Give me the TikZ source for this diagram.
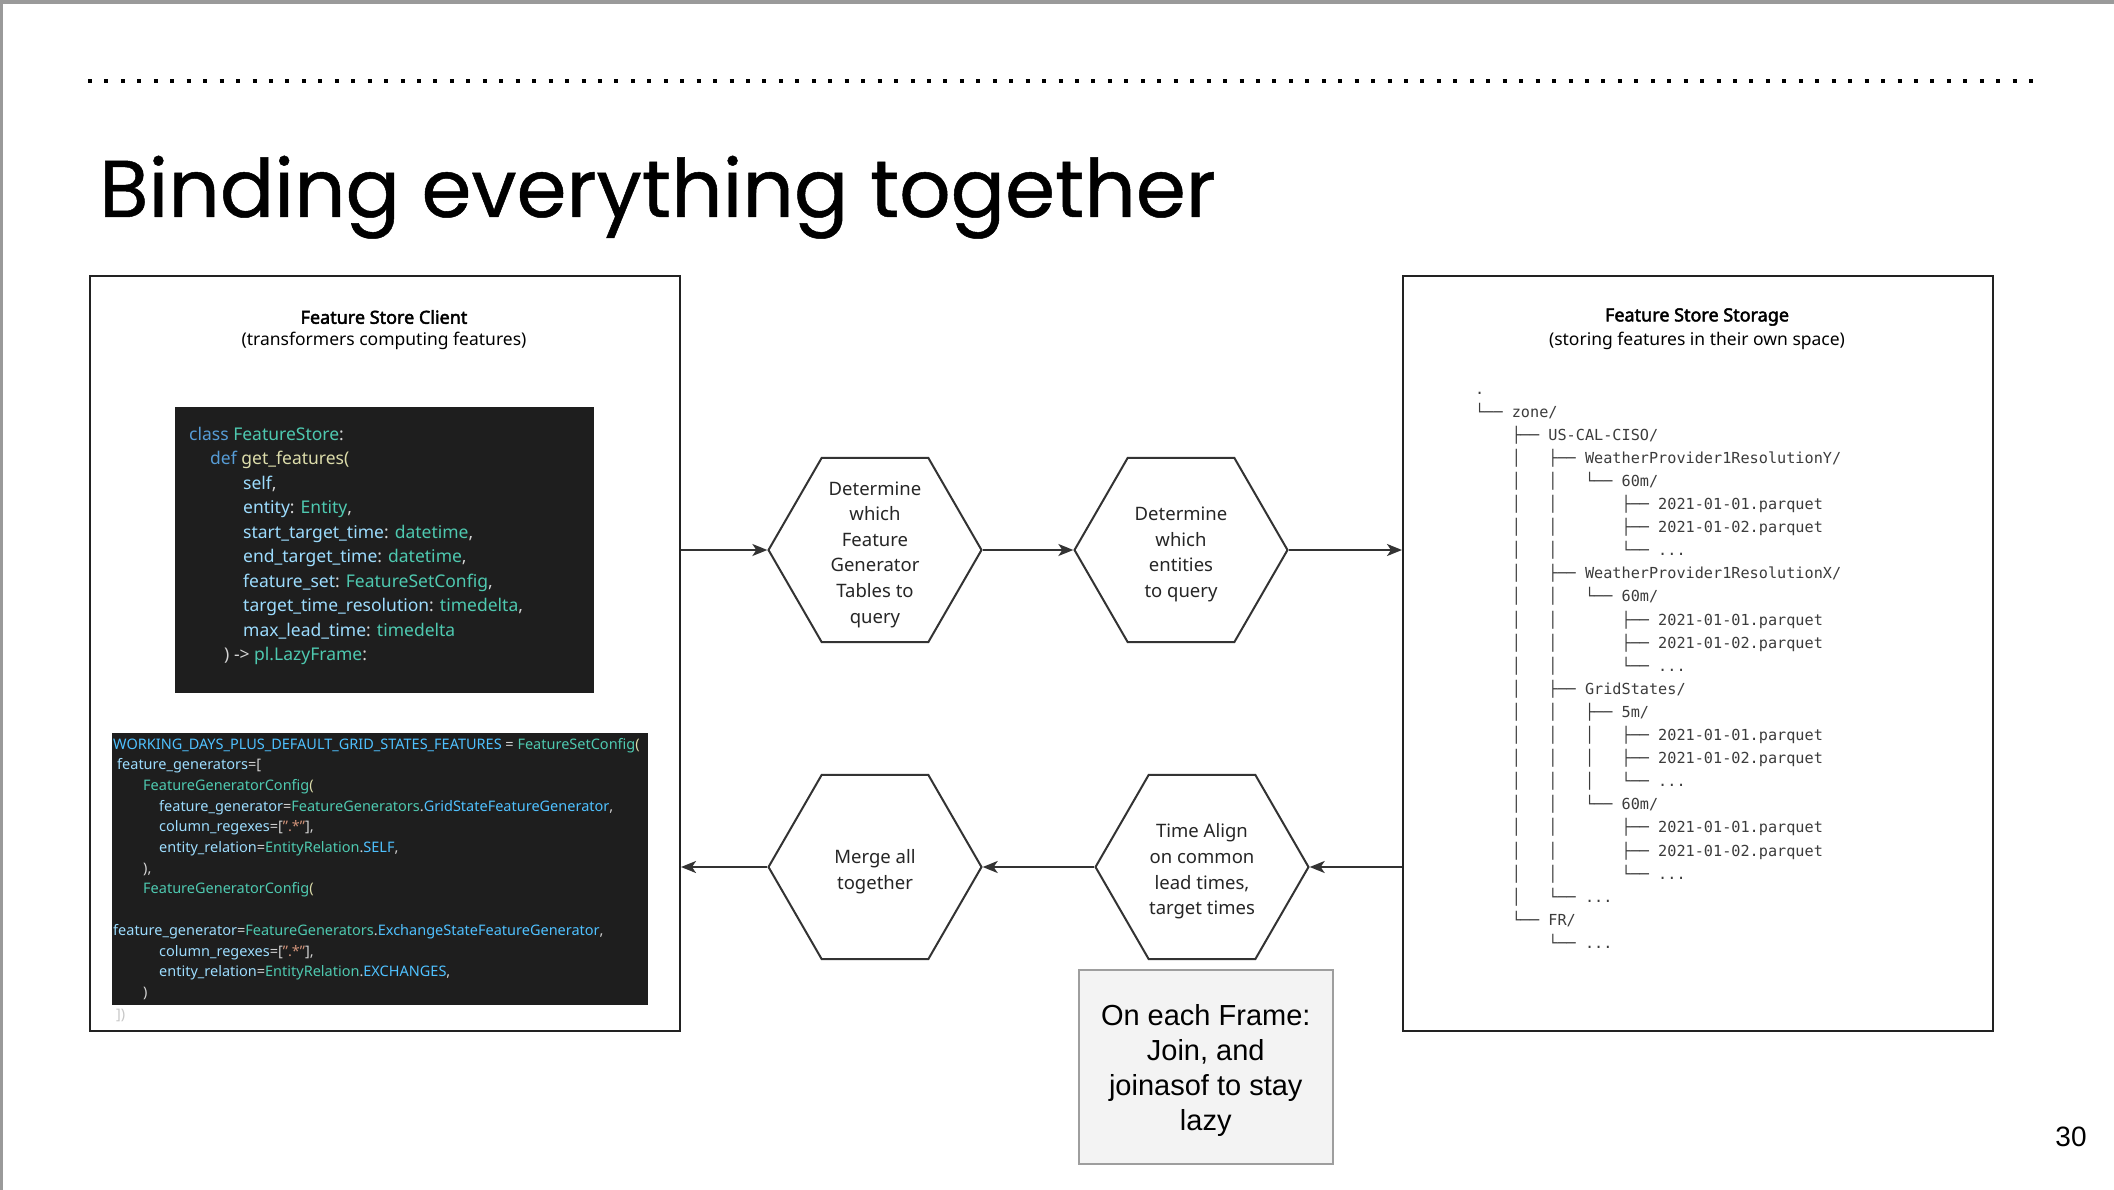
\documentclass[tikz,border=0pt]{standalone}
\usepackage{fontspec}
\setmainfont{Noto Sans}
\newfontfamily\hdrfont{Noto Sans}[FakeBold=2.5]
\newfontfamily\titlefont{Poppins}[FakeBold=0.6]
\newfontfamily\treefont{DejaVu Sans Mono}
\newfontfamily\arialfont{Liberation Sans}
\usetikzlibrary{shapes.geometric,arrows.meta,calc}
\definecolor{framegray}{HTML}{9A9A9A}
\definecolor{boxc}{HTML}{222222}
\definecolor{linec}{HTML}{333333}
\definecolor{codebg}{HTML}{1E1E1E}
\definecolor{ckw}{HTML}{569CD6}
\definecolor{ccls}{HTML}{4EC9B0}
\definecolor{cfn}{HTML}{DCDCAA}
\definecolor{cpar}{HTML}{9CDCFE}
\definecolor{cpun}{HTML}{D4D4D4}
\definecolor{cconst}{HTML}{4FC1FF}
\definecolor{cstr}{HTML}{CE9178}
\definecolor{treec}{HTML}{3C3C3C}
\definecolor{notefill}{HTML}{F3F3F3}
\definecolor{notedraw}{HTML}{9E9E9E}
\newcommand\trI{│\ \ \ }
\newcommand\trE{\ \ \ \ }
\newcommand\trT{├──\ }
\newcommand\trL{└──\ }
\newcommand\trD{...}
\newcommand\cKw[1]{\textcolor{ckw}{#1}}
\newcommand\cCl[1]{\textcolor{ccls}{#1}}
\newcommand\cFn[1]{\textcolor{cfn}{#1}}
\newcommand\cPa[1]{\textcolor{cpar}{#1}}
\newcommand\cCo[1]{\textcolor{cconst}{#1}}
\newcommand\cSt[1]{\textcolor{cstr}{#1}}
\tikzset{
  bigbox/.style={draw=boxc, line width=2pt, inner sep=0pt, anchor=north west},
  header/.style={font=\hdrfont\fontsize{18}{22}\selectfont, inner sep=0pt},
  subheader/.style={font=\fontsize{17.5}{22}\selectfont, inner sep=0pt},
  codebox/.style={fill=codebg, inner sep=0pt, anchor=north west},
  codeA/.style={anchor=base west, inner sep=0pt, text=cpun, font=\fontsize{17.5}{20}\selectfont},
  codeB/.style={anchor=base west, inner sep=0pt, text=cpun, font=\fontsize{14.5}{18}\selectfont},
  hexa/.style={regular polygon, regular polygon sides=6, minimum size=213pt, inner sep=0pt, draw=linec, line width=2pt},
  hextext/.style={align=center, font=\fontsize{18.5}{25.6}\selectfont, text=black!85, yshift=-4.5pt},
  treerow/.style={anchor=base west, inner sep=0pt, text=treec, font=\treefont\fontsize{15.2}{18}\selectfont},
  arr/.style={draw=linec, line width=2pt, -{Stealth[length=15pt, width=12pt, inset=4pt]}},
}
\begin{document}
\begin{tikzpicture}[x=1pt, y=-1pt]
\useasboundingbox (0,0) rectangle (2114,1190);
\fill[white] (0,0) rectangle (2114,1190);
\fill[framegray] (0,0) rectangle (2114,4);
\fill[framegray] (0,0) rectangle (3,1190);
% dotted rule
\draw[line width=4pt, dash pattern=on 4pt off 12.45pt, black] (88,81) -- (2040,81);
% title
\node[anchor=base west, inner sep=0pt, font=\titlefont\fontsize{80.5}{90}\selectfont] (title) at (99,217) {Binding everything together};

% left box
\node[bigbox, minimum width=590pt, minimum height=755pt] (lbox) at (89,275) {};
\node[header] (lhead) at (384,317) {Feature Store Client};
\node[subheader] (lsub) at (384,341) {(transformers computing features)};

% code box 1
\node[codebox, minimum width=419pt, minimum height=286pt] (code1) at (175,407) {};
\node[codeA] (a1) at (189,440) {\cKw{class} \cCl{FeatureStore}:};
\node[codeA] (a2) at (210,464.5) {\cKw{def} \cFn{get\_features(}};
\node[codeA] (a3) at (243,489) {\cPa{self},};
\node[codeA] (a4) at (243,513.5) {\cPa{entity}: \cCl{Entity},};
\node[codeA] (a5) at (243,538) {\cPa{start\_target\_time}: \cCl{datetime},};
\node[codeA] (a6) at (243,562.5) {\cPa{end\_target\_time}: \cCl{datetime},};
\node[codeA] (a7) at (243,587) {\cPa{feature\_set}: \cCl{FeatureSetConfig},};
\node[codeA] (a8) at (243,611.5) {\cPa{target\_time\_resolution}: \cCl{timedelta},};
\node[codeA] (a9) at (243,636) {\cPa{max\_lead\_time}: \cCl{timedelta}};
\node[codeA] (a10) at (224,660.5) {) -> \cCl{pl.LazyFrame}:};

% code box 2
\node[codebox, minimum width=536pt, minimum height=272pt] (code2) at (112,733) {};
\node[codeB] (b1) at (113,749) {\cCo{WORKING\_DAYS\_PLUS\_DEFAULT\_GRID\_STATES\_FEATURES} = \cCl{FeatureSetConfig}\cFn{(}};
\node[codeB] (b2) at (117,769.7) {\cPa{feature\_generators}=[};
\node[codeB] (b3) at (143,790.4) {\cCl{FeatureGeneratorConfig}\cFn{(}};
\node[codeB] (b4) at (159,811.1) {\cPa{feature\_generator}=\cCl{FeatureGenerators}.\cCo{GridStateFeatureGenerator},};
\node[codeB] (b5) at (159,831.8) {\cPa{column\_regexes}=[\cSt{".*"}],};
\node[codeB] (b6) at (159,852.5) {\cPa{entity\_relation}=\cCl{EntityRelation}.\cCo{SELF},};
\node[codeB] (b7) at (143,873.2) {),};
\node[codeB] (b8) at (143,893.9) {\cCl{FeatureGeneratorConfig}\cFn{(}};
\node[codeB] (b9) at (113,935.3) {\cPa{feature\_generator}=\cCl{FeatureGenerators}.\cCo{ExchangeStateFeatureGenerator},};
\node[codeB] (b10) at (159,956) {\cPa{column\_regexes}=[\cSt{".*"}],};
\node[codeB] (b11) at (159,976.7) {\cPa{entity\_relation}=\cCl{EntityRelation}.\cCo{EXCHANGES},};
\node[codeB] (b12) at (143,997.4) {)};
\node[codeB, text=black!22] (b13) at (116,1019) {])};

% right box
\node[bigbox, minimum width=590pt, minimum height=755pt] (rbox) at (1402,275) {};
\node[header] (rhead) at (1697,317) {Feature Store Storage};
\node[subheader] (rsub) at (1697,341) {(storing features in their own space)};

% tree
\foreach \r [count=\i from 0] in {
  {.},
  {\trL zone/},
  {\trE\trT US-CAL-CISO/},
  {\trE\trI\trT WeatherProvider1ResolutionY/},
  {\trE\trI\trI\trL 60m/},
  {\trE\trI\trI\trE\trT 2021-01-01.parquet},
  {\trE\trI\trI\trE\trT 2021-01-02.parquet},
  {\trE\trI\trI\trE\trL \trD},
  {\trE\trI\trT WeatherProvider1ResolutionX/},
  {\trE\trI\trI\trL 60m/},
  {\trE\trI\trI\trE\trT 2021-01-01.parquet},
  {\trE\trI\trI\trE\trT 2021-01-02.parquet},
  {\trE\trI\trI\trE\trL \trD},
  {\trE\trI\trT GridStates/},
  {\trE\trI\trI\trT 5m/},
  {\trE\trI\trI\trI\trT 2021-01-01.parquet},
  {\trE\trI\trI\trI\trT 2021-01-02.parquet},
  {\trE\trI\trI\trI\trL \trD},
  {\trE\trI\trI\trL 60m/},
  {\trE\trI\trI\trE\trT 2021-01-01.parquet},
  {\trE\trI\trI\trE\trT 2021-01-02.parquet},
  {\trE\trI\trI\trE\trL \trD},
  {\trE\trI\trL \trD},
  {\trE\trL FR/},
  {\trE\trE\trL \trD}}
{
  \node[treerow] (tree\i) at (1475,{394+23.1*\i}) {\r};
}

% hexagons
\node[hexa, label={[hextext]center:Determine\\which\\Feature\\Generator\\Tables to\\query}] (h1) at (875,550) {};
\node[hexa, label={[hextext]center:Determine\\which\\entities\\to query}] (h2) at (1181,550) {};
\node[hexa, label={[hextext]center:Merge all\\together}] (h3) at (875,867) {};
\node[hexa, label={[hextext]center:Time Align\\on common\\lead times,\\target times}] (h4) at (1202,867) {};

% note
\node[draw=notedraw, fill=notefill, line width=1.5pt, anchor=north west, minimum width=254pt, minimum height=194pt,
  label={[align=center, font=\arialfont\fontsize{29}{35}\selectfont, yshift=-4pt]center:On each Frame:\\Join, and\\joinasof to stay\\lazy}] (note) at (1078,969) {};

% arrows
\draw[arr] (lbox.east |- h1.west) -- (h1.west);
\draw[arr] (h1.east) -- (h2.west);
\draw[arr] (h2.east) -- (rbox.west |- h2.east);
\draw[arr] (rbox.west |- h4.east) -- (h4.east);
\draw[arr] (h4.west) -- (h3.east);
\draw[arr] (h3.west) -- (lbox.east |- h3.west);

% page number
\node[font=\arialfont\fontsize{28}{32}\selectfont, inner sep=0pt] (pnum) at (2071,1137) {30};
\end{tikzpicture}
\end{document}
